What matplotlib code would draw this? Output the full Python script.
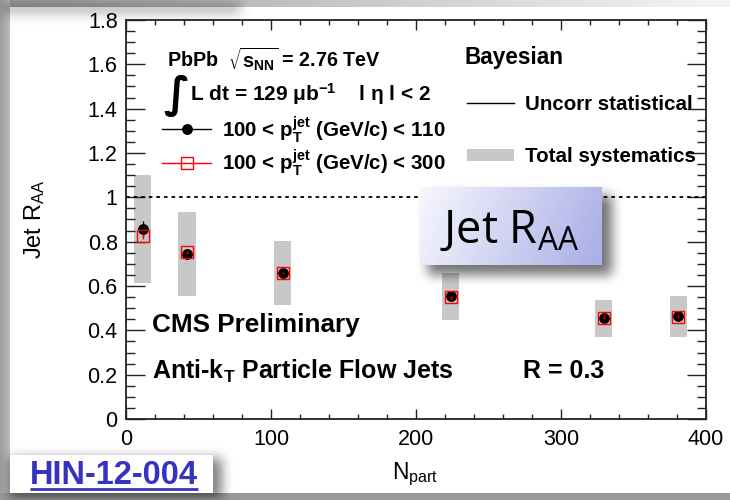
import numpy as np
import matplotlib
matplotlib.use("Agg")
import matplotlib.pyplot as plt
from matplotlib.lines import Line2D
from matplotlib.patches import Patch
from matplotlib.ticker import MultipleLocator

plt.rcParams["font.family"] = ["Liberation Sans", "DejaVu Sans"]
plt.rcParams["mathtext.default"] = "regular"
plt.rcParams["mathtext.fontset"] = "dejavusans"

# Jet RAA vs Npart (PbPb 2.76 TeV, anti-kT R=0.3, Bayesian unfolding)
npart = [11.4, 42.0, 108.0, 224.0, 329.5, 381.0]
raa_110 = [0.857, 0.746, 0.660, 0.553, 0.454, 0.463]   # 100 < pT < 110 GeV/c
stat_110 = [0.035, 0.012, 0.010, 0.010, 0.010, 0.010]
raa_300 = [0.824, 0.752, 0.659, 0.549, 0.457, 0.462]   # 100 < pT < 300 GeV/c
stat_300 = [0.012, 0.008, 0.006, 0.006, 0.006, 0.006]
sys_total = [0.243, 0.190, 0.144, 0.105, 0.085, 0.092]

xticks = [0, 100, 200, 300, 400]
yticks = [0, 0.2, 0.4, 0.6, 0.8, 1.0, 1.2, 1.4, 1.6, 1.8]
ytick_labels = ["0", "0.2", "0.4", "0.6", "0.8", "1", "1.2", "1.4", "1.6", "1.8"]

W, H = 730, 500
fig = plt.figure(figsize=(W / 100, H / 100), dpi=100)


def box_blur(a, r, passes=3):
    k = np.ones(2 * r + 1) / (2 * r + 1)
    for _ in range(passes):
        a = np.apply_along_axis(lambda v: np.convolve(v, k, mode="same"), 0, a)
        a = np.apply_along_axis(lambda v: np.convolve(v, k, mode="same"), 1, a)
    return a


# ---- page background with grey frame ----
bg = np.ones((H, W, 3))
yy, xx = np.mgrid[0:H, 0:W]
frame = np.zeros((H, W))
frame[:, :10] = 1
frame[:7, :] = 1
frame[493:, :] = 1
grey = np.where(xx < 10, 0.62 + 0.012 * xx, 0.62 + 0.33 * np.clip(xx / 700, 0, 1))
grey = np.where(yy >= 493, 0.60, grey)
for c in range(3):
    bg[..., c] = np.where(frame > 0, grey, 1.0)
# soft shade under the top-left corner
shade = np.zeros((H, W))
shade[:14, :240] = 1
shade = box_blur(shade, 6, 2)
bg = bg * (1 - 0.25 * shade[..., None])
bax = fig.add_axes([0, 0, 1, 1], zorder=0)
bax.imshow(bg, extent=(0, W, H, 0), aspect="auto", interpolation="bilinear")
bax.set_xlim(0, W)
bax.set_ylim(H, 0)
bax.axis("off")

# ---- main plot ----
ax = fig.add_axes([126 / W, 1 - 419 / H, 580 / W, 399 / H], zorder=1)
ax.set_facecolor("white")
ax.set_xlim(0, 400)
ax.set_ylim(0, 1.8)

ax.bar(npart, [2 * s for s in sys_total], width=12,
       bottom=[r - s for r, s in zip(raa_110, sys_total)],
       color="#c8c8c8", edgecolor="none", zorder=1)
ax.axhline(1.0, color="black", lw=1.3, ls=(0, (2.0, 2.2)), zorder=2)
ax.errorbar(npart, raa_110, yerr=stat_110, fmt="o", color="black",
            ms=6.8, elinewidth=1.0, capsize=0, zorder=3)
ax.errorbar(npart, raa_300, yerr=stat_300, fmt="s", color="red", mfc="none",
            mec="red", ms=8.0, mew=1.0, elinewidth=1.0, capsize=0, zorder=4)

ax.set_xticks(xticks)
ax.set_xticklabels([str(t) for t in xticks])
ax.set_yticks(yticks)
ax.set_yticklabels(ytick_labels)
ax.xaxis.set_minor_locator(MultipleLocator(20))
ax.yaxis.set_minor_locator(MultipleLocator(0.05))
ax.tick_params(axis="both", which="both", direction="in", top=True, right=True,
               color="#222222", width=1.0, labelsize=15.5)
ax.tick_params(axis="y", which="major", length=13.5, pad=6)
ax.tick_params(axis="y", which="minor", length=6.5)
ax.tick_params(axis="x", which="major", length=7.2, pad=7)
ax.tick_params(axis="x", which="minor", length=3.6)
for sp in ax.spines.values():
    sp.set_linewidth(1.3)
    sp.set_color("#222222")

ax.set_ylabel("Jet R$_{AA}$", fontsize=17)
ax.yaxis.set_label_coords(-0.137, 0.5)
ax.set_xlabel("N$_{part}$", fontsize=16.5)
ax.xaxis.set_label_coords(0.498, -0.105)

bold = dict(fontweight="bold", color="black", transform=ax.transAxes)


def ax_xy(px, py):
    return (px - 126) / 580, (419 - py) / 399


ax.text(*ax_xy(167, 59), r"PbPb  $\sqrt{s_{NN}}$ = 2.76 TeV", fontsize=14.2,
        va="center", ha="left", **bold)
ax.text(*ax_xy(163, 96), "\u222b", fontsize=31, va="center", ha="left",
        family=["DejaVu Sans"], **bold)
ax.text(*ax_xy(190, 94), "L dt = 129 \u03bcb$^{-1}$    l \u03b7 l < 2",
        fontsize=15, va="center", ha="left", **bold)
ax.text(*ax_xy(465, 58), "Bayesian", fontsize=16.3, va="center", ha="left", **bold)
ax.text(*ax_xy(152, 325), "CMS Preliminary", fontsize=18.8, va="center", ha="left", **bold)
ax.text(*ax_xy(152, 371), "Anti-k$_T$ Particle Flow Jets", fontsize=18,
        va="center", ha="left", **bold)
ax.text(*ax_xy(523, 371), "R = 0.3", fontsize=18, va="center", ha="left", **bold)

leg1 = ax.legend(
    handles=[Line2D([], [], color="black", lw=1.0, marker="o", ms=6.8),
             Line2D([], [], color="red", lw=1.0, marker="s", ms=8.0,
                    mfc="none", mec="red")],
    labels=[r"100 < p$_{T}^{jet}$ (GeV/c) < 110", r"100 < p$_{T}^{jet}$ (GeV/c) < 300"],
    loc="upper left", bbox_to_anchor=ax_xy(162, 114), frameon=False,
    prop=dict(family="Liberation Sans", weight="bold", size=14.8),
    handlelength=2.4, handletextpad=0.5, labelspacing=0.15, borderaxespad=0,
    borderpad=0)
ax.add_artist(leg1)
ax.legend(
    handles=[Line2D([], [], color="black", lw=1.0),
             Patch(facecolor="#c8c8c8", edgecolor="none")],
    labels=["Uncorr statistical", "Total systematics"],
    loc="upper left", bbox_to_anchor=ax_xy(467, 95), frameon=False,
    prop=dict(family="Liberation Sans", weight="bold", size=14.8),
    handlelength=2.3, handleheight=0.5, handletextpad=0.5, labelspacing=1.62,
    borderaxespad=0, borderpad=0)

# ---- overlay: badge boxes with drop shadows ----
oax = fig.add_axes([0, 0, 1, 1], zorder=3)
oax.set_xlim(0, W)
oax.set_ylim(H, 0)
oax.axis("off")

sh = np.zeros((H, W))
sh[195:275, 428:612] = 1.0     # under the Jet RAA badge
sh[458:500, 10:222] = 0.9      # under the report-number badge
sh = box_blur(sh, 5, 3)
rgba = np.zeros((H, W, 4))
rgba[..., 3] = 0.55 * sh
oax.imshow(rgba, extent=(0, W, H, 0), aspect="auto", interpolation="bilinear", zorder=1)

gx = np.linspace(0, 1, 200)[None, :]
gy = np.linspace(0, 1, 80)[:, None]
t = np.clip(0.85 * gx + 0.15 * gy, 0, 1)
c0 = np.array([0.97, 0.97, 0.995])
c1 = np.array([0.66, 0.68, 0.90])
grad = c0[None, None, :] * (1 - t[..., None]) + c1[None, None, :] * t[..., None]
oax.imshow(grad, extent=(420, 602, 265, 187), aspect="auto",
           interpolation="bilinear", zorder=2)
oax.text(440, 243, "Jet R$_{AA}$", fontsize=32.5, family=["Open Sans", "DejaVu Sans"],
         color="black", va="baseline", ha="left", zorder=3)

oax.fill_between([10, 213], [455, 455], [493, 493], color="white", zorder=2, lw=0)
hin = oax.text(30, 484, "HIN-12-004", fontsize=23.5, fontweight="bold", color="#3434c0",
               va="baseline", ha="left", zorder=3)
renderer = fig.canvas.get_renderer()
bb = hin.get_window_extent(renderer)
x0, x1 = bb.x0, bb.x1   # display px equal figure px at dpi 100
oax.plot([x0, x1], [488.5, 488.5], color="#3434c0", lw=2.0, zorder=3,
         solid_capstyle="butt")

fig.savefig("out.png", dpi=100)
